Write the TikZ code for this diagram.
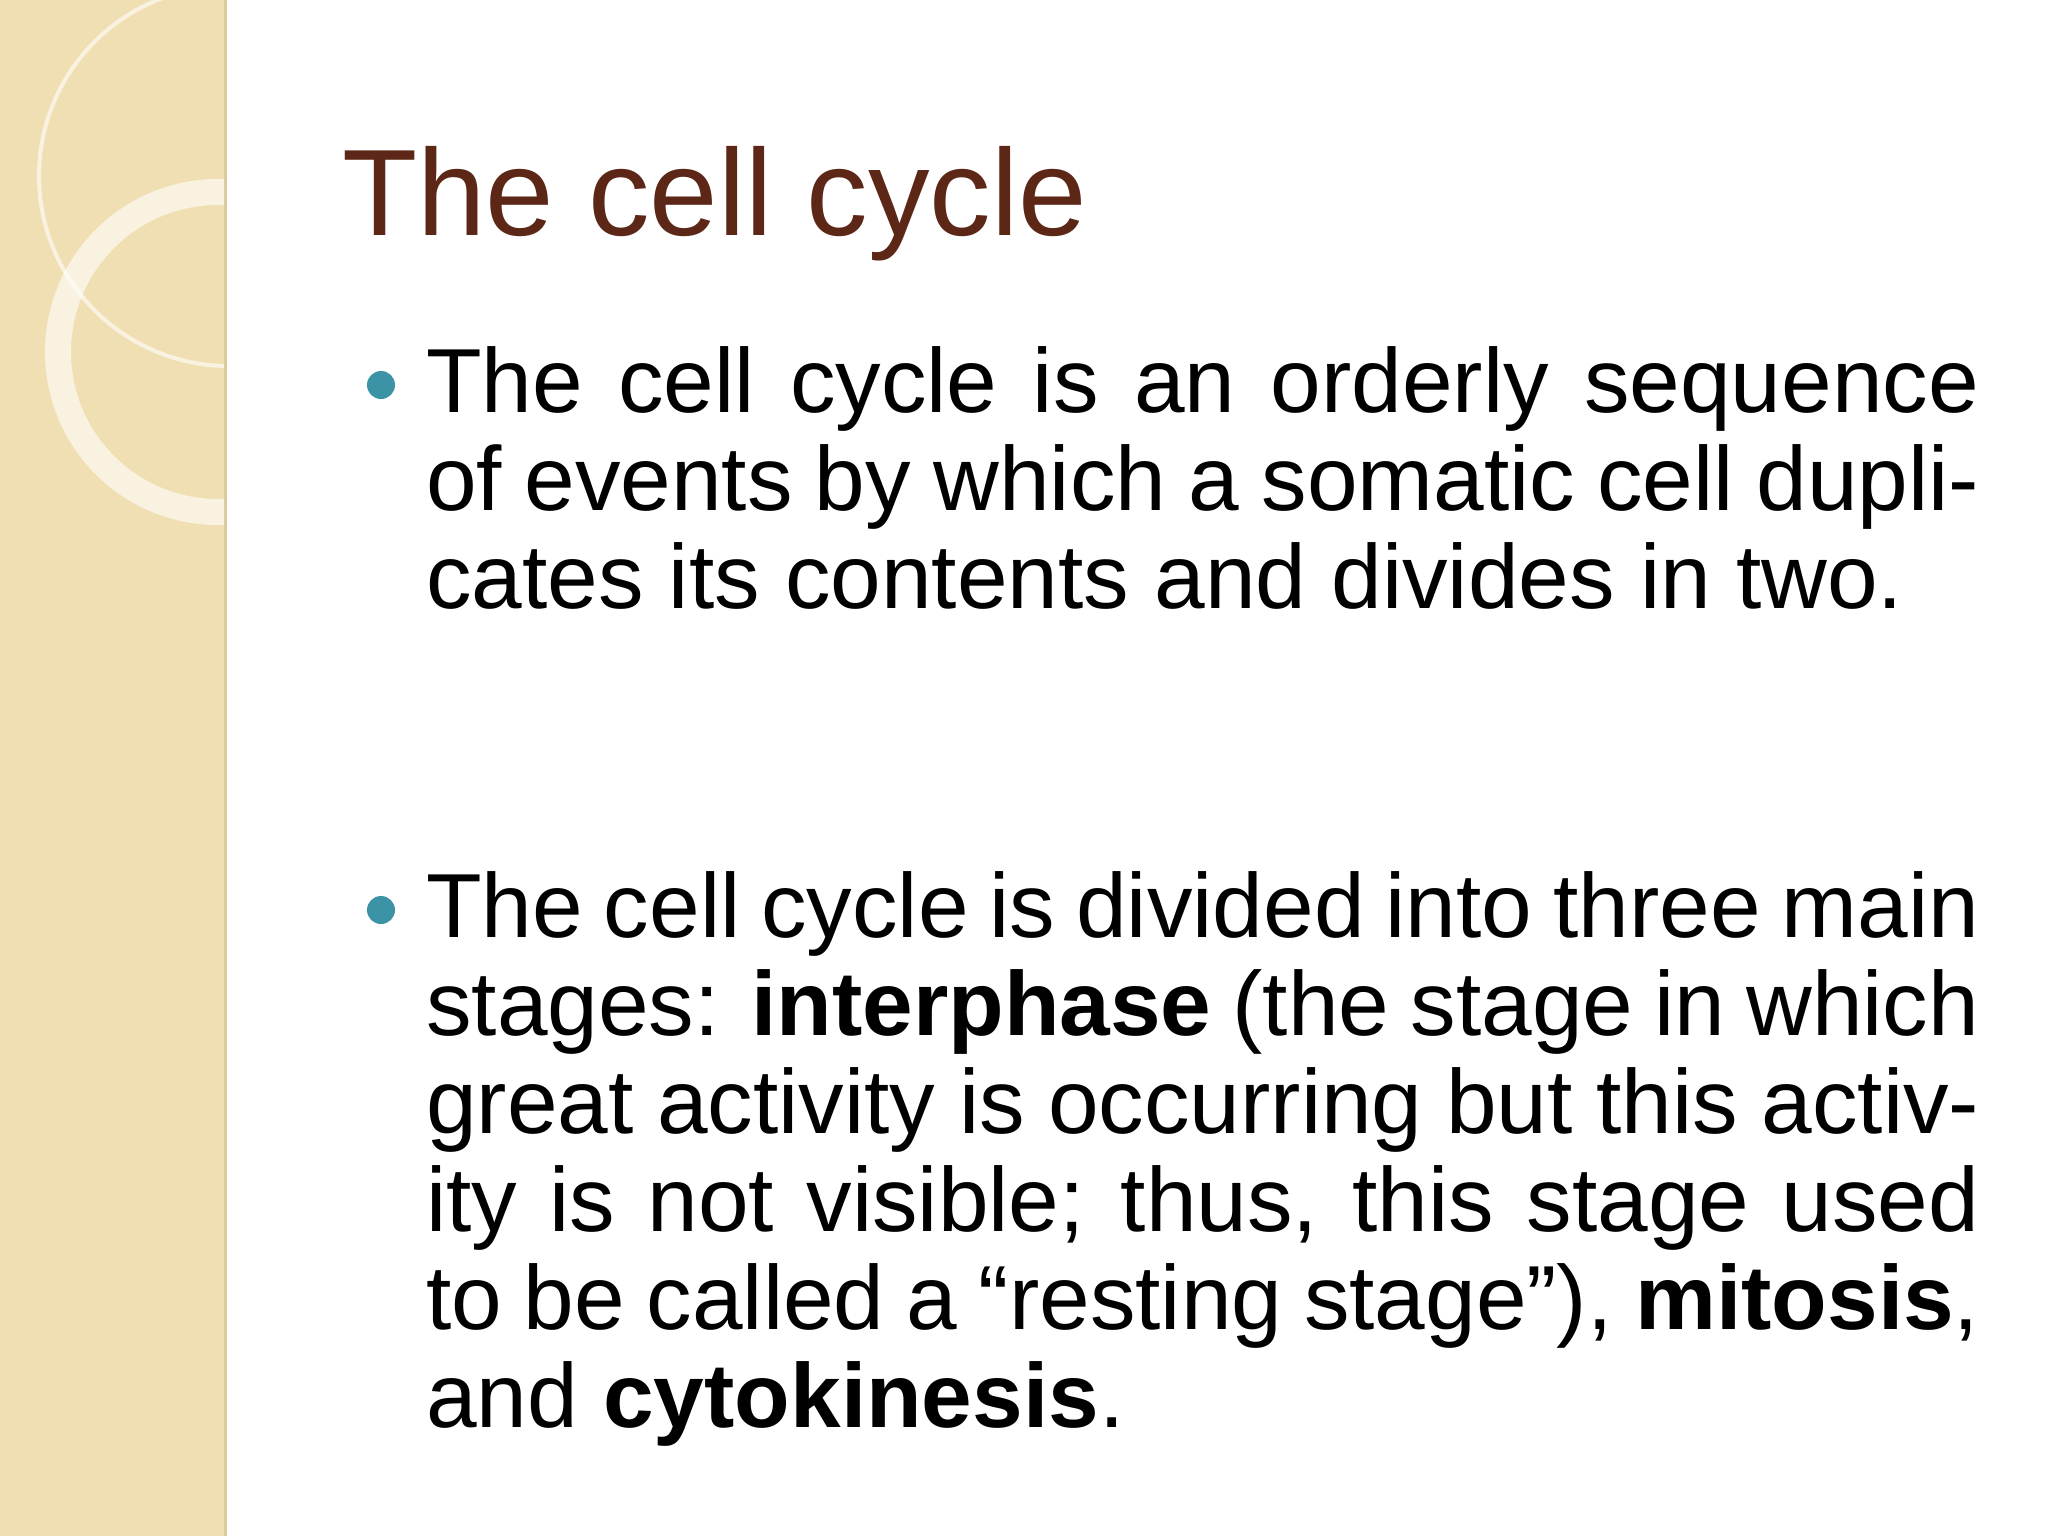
\documentclass[tikz,border=0pt]{standalone}
\usepackage{fontspec}
\setmainfont{Liberation Sans}
\definecolor{strip}{HTML}{F0DFB2}
\definecolor{stripedge}{HTML}{DCCB9C}
\definecolor{titlec}{HTML}{5C2716}
\definecolor{bul}{HTML}{3C93A6}
\newcommand{\nohyph}{\hyphenpenalty=10000\relax\exhyphenpenalty=10000\relax}
\tikzset{
  para/.style={anchor=north west, inner sep=0pt, text width=1553pt, align=justify,
    font=\fontsize{91pt}{98pt}\selectfont},
  bulletdot/.style={circle, fill=bul, inner sep=0pt, minimum size=28pt},
  ring/.style={draw=white, opacity=0.6}
}
\begin{document}
\begin{tikzpicture}[x=1pt,y=-1pt]
\useasboundingbox (0,0) rectangle (2048,1536);
\fill[white] (0,0) rectangle (2048,1536);
\fill[strip] (0,0) rectangle (225,1536);
\draw[stripedge, line width=3pt] (225,0) -- (225,1536);
\begin{scope}
\clip (0,0) rectangle (224,1536);
\draw[ring, line width=4pt] (229,176) circle (190);
\draw[ring, line width=26pt] (218,352) circle (160);
\end{scope}
\node[anchor=base west, inner sep=0pt, text=titlec, font=\fontsize{123pt}{130pt}\selectfont] (title) at (342,235) {The cell cycle};
\node[bulletdot] (b1) at (381,385) {};
\node[para] (p1) at (426,346) {\nohyph The cell cycle is an orderly sequence of events by which a somatic cell duplicates its contents and divides in two.};
\node[bulletdot] (b2) at (381,910) {};
\node[para] (p2) at (426,871) {\nohyph The cell cycle is divided into three main stages: \textbf{interphase} (the stage in which great activity is occurring but this activity is not visible; thus, this stage used to be called a “resting stage”), \textbf{mitosis}, and \textbf{cytokinesis}.};
\end{tikzpicture}
\end{document}
